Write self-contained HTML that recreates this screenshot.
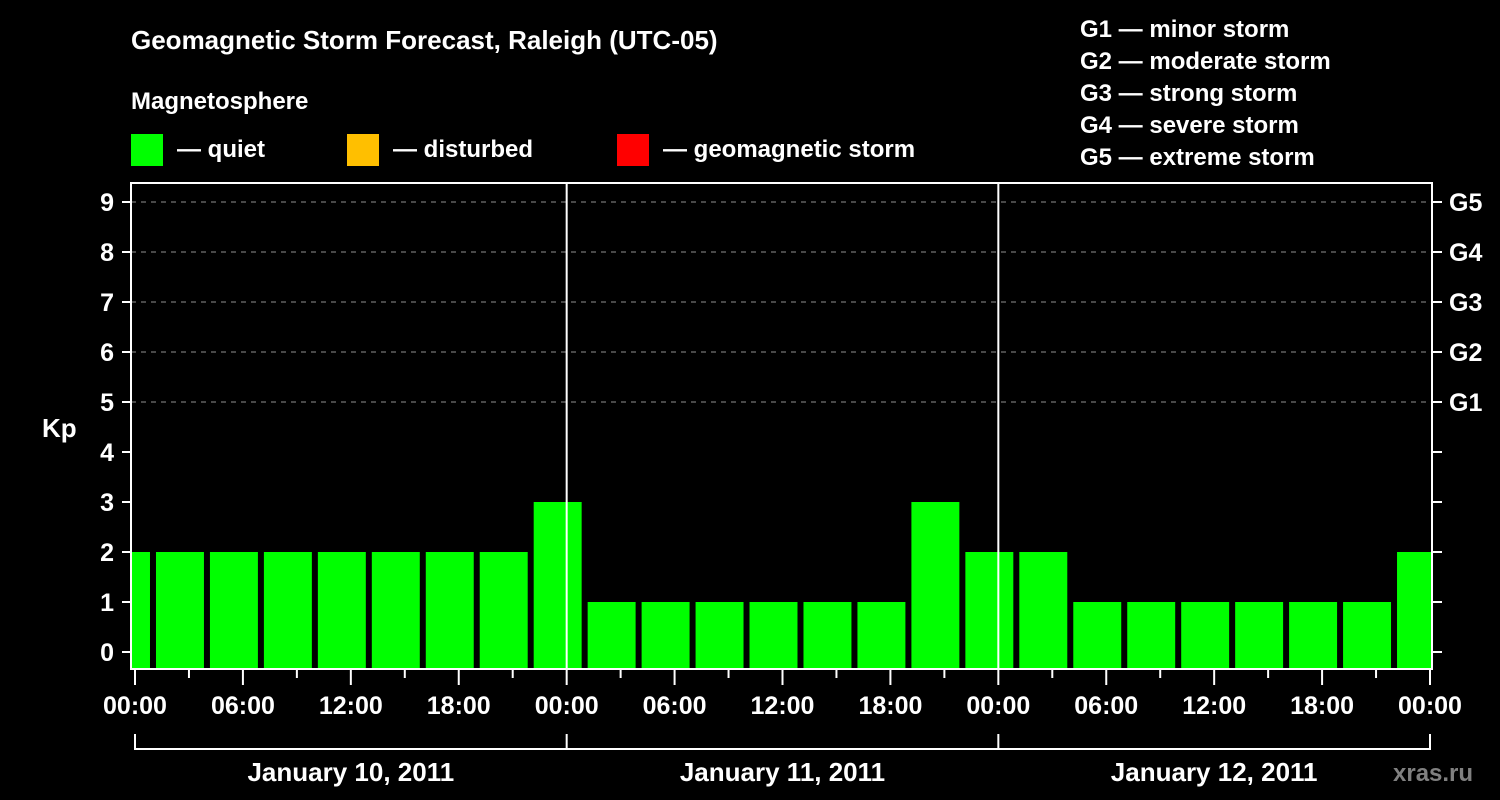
<!DOCTYPE html>
<html><head><meta charset="utf-8"><style>
html,body{margin:0;padding:0;background:#000;width:1500px;height:800px;overflow:hidden}
svg text{font-family:"Liberation Sans",sans-serif;font-weight:bold;fill:#fff}
</style></head><body>
<svg id="chart" width="1500" height="800" xmlns="http://www.w3.org/2000/svg">
<text x="131" y="49" font-size="26">Geomagnetic Storm Forecast, Raleigh (UTC-05)</text>
<text x="131" y="109" font-size="24">Magnetosphere</text>
<g>
<rect x="131" y="134" width="32" height="32" fill="#00ff00"/>
<text x="177" y="157" font-size="24">— quiet</text>
<rect x="347" y="134" width="32" height="32" fill="#ffbf00"/>
<text x="393" y="157" font-size="24">— disturbed</text>
<rect x="617" y="134" width="32" height="32" fill="#ff0000"/>
<text x="663" y="157" font-size="24">— geomagnetic storm</text>
</g>
<g font-size="24">
<text x="1080" y="37">G1 — minor storm</text>
<text x="1080" y="69">G2 — moderate storm</text>
<text x="1080" y="101">G3 — strong storm</text>
<text x="1080" y="133">G4 — severe storm</text>
<text x="1080" y="165">G5 — extreme storm</text>
</g>
<text x="42" y="437" font-size="26">Kp</text>
<text x="1393" y="781" font-size="24" style="fill:#808080">xras.ru</text>
<g id="plot"></g>
</svg>
<script>
const kpValues=[2,2,2,2,2,2,2,2,3,1,1,1,1,1,1,3,2,2,1,1,1,1,1,1,2];
const yTicks=[0,1,2,3,4,5,6,7,8,9];
const gLabels=["G1","G2","G3","G4","G5"];
const timeLabels=["00:00","06:00","12:00","18:00","00:00","06:00","12:00","18:00","00:00","06:00","12:00","18:00","00:00"];
const dayLabels=["January 10, 2011","January 11, 2011","January 12, 2011"];
const firstBarStartHour=-2;

const NS="http://www.w3.org/2000/svg";
const g=document.getElementById('plot');
const L=131,R=1432,T=183,B=669,X0=135,X1=1430;
const x=h=>X0+(X1-X0)*h/72;
const y=v=>652-50*v;
function mk(tag,attrs,parent){const e=document.createElementNS(NS,tag);for(const k in attrs)e.setAttribute(k,attrs[k]);(parent||g).appendChild(e);return e;}
const clip=mk('clipPath',{id:'pc'});mk('rect',{x:L,y:T,width:R-L,height:B-T},clip);
// grid
yTicks.filter(v=>v>=5).forEach(v=>{const l=mk('line',{x1:L,x2:R,y1:y(v),y2:y(v),stroke:'#909090','stroke-dasharray':'5,5','stroke-width':1});

});
// bars
const bg=mk('g',{'clip-path':'url(#pc)'});
kpValues.forEach((v,i)=>{const s=firstBarStartHour+3*i;const c=v>=5?'#ff0000':(v>=4?'#ffbf00':'#00ff00');
const r=mk('rect',{x:x(s)+3,y:y(v),width:x(s+3)-x(s)-6,height:B-y(v),fill:c},bg);

});
// day lines
[24,48].forEach(h=>{const l=mk('line',{x1:x(h),x2:x(h),y1:T,y2:B,stroke:'#fff','stroke-width':2});

});
// frame
const f=mk('rect',{x:L,y:T,width:R-L,height:B-T,fill:'none',stroke:'#fff','stroke-width':2});


// y ticks
yTicks.forEach(v=>{mk('line',{x1:122,x2:L,y1:y(v),y2:y(v),stroke:'#fff','stroke-width':2});
mk('line',{x1:R,x2:1442,y1:y(v),y2:y(v),stroke:'#fff','stroke-width':2});
const t=mk('text',{x:114,y:y(v)+9,'font-size':25,'text-anchor':'end'});t.textContent=v;

});
gLabels.forEach((s,i)=>{const t=mk('text',{x:1449,y:y(5+i)+9,'font-size':25});t.textContent=s;

});
// x ticks
for(let h=0;h<=72;h+=3){mk('line',{x1:x(h),x2:x(h),y1:B,y2:h%6===0?685:678,stroke:'#fff','stroke-width':2});}
timeLabels.forEach((s,i)=>{const t=mk('text',{x:x(6*i),y:714,'font-size':25,'text-anchor':'middle'});t.textContent=s;

});
// day bracket
mk('line',{x1:x(0),x2:x(72),y1:749,y2:749,stroke:'#fff','stroke-width':2});
[0,24,48,72].forEach(h=>mk('line',{x1:x(h),x2:x(h),y1:734,y2:750,stroke:'#fff','stroke-width':2}));
dayLabels.forEach((s,i)=>{const t=mk('text',{x:x(24*i+12),y:781,'font-size':26,'text-anchor':'middle'});t.textContent=s;

});
</script>
</body></html>
